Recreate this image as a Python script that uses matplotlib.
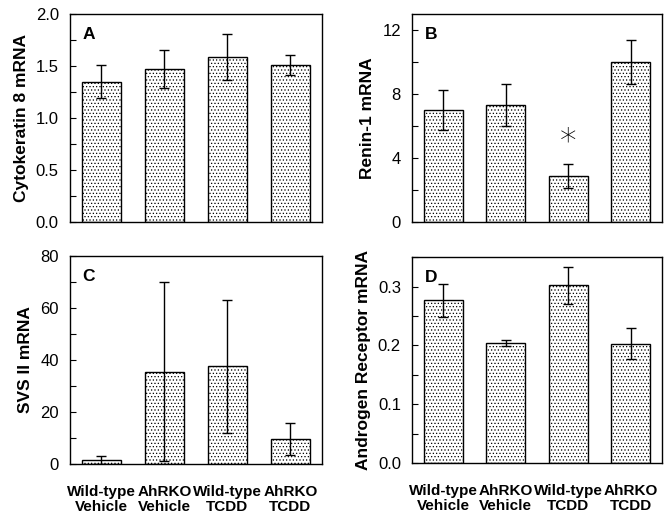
import matplotlib
matplotlib.use("Agg")
import matplotlib.pyplot as plt
import numpy as np

plt.rcParams['font.family'] = ['Liberation Sans', 'DejaVu Sans']
plt.rcParams['hatch.color'] = '#8c8c8c'
plt.rcParams['hatch.linewidth'] = 0.5

groups = ["Wild-type\nVehicle", "AhRKO\nVehicle", "Wild-type\nTCDD", "AhRKO\nTCDD"]

# panel A - cytokeratin 8
ck8_mean = [1.35, 1.47, 1.59, 1.51]
ck8_err = [0.16, 0.18, 0.22, 0.10]
# panel B - renin-1
renin_mean = [7.0, 7.3, 2.9, 10.0]
renin_err = [1.25, 1.3, 0.75, 1.35]
# panel C - SVS II
svs_mean = [1.5, 35.5, 37.5, 9.5]
svs_err = [1.5, 34.5, 25.5, 6.2]
# panel D - androgen receptor
ar_mean = [0.277, 0.204, 0.302, 0.203]
ar_err = [0.028, 0.005, 0.031, 0.027]

panels = [
    ("A", "Cytokeratin 8 mRNA", ck8_mean, ck8_err, (0, 2.0), [0, 0.5, 1.0, 1.5, 2.0], 0.25, "%.1f",
     [0.105, 0.573, 0.3784, 0.400]),
    ("B", "Renin-1 mRNA", renin_mean, renin_err, (0, 13), [0, 4, 8, 12], 2, "%d",
     [0.6186, 0.573, 0.3754, 0.400]),
    ("C", "SVS II mRNA", svs_mean, svs_err, (0, 80), [0, 20, 40, 60, 80], 10, "%d",
     [0.105, 0.1077, 0.3784, 0.400]),
    ("D", "Androgen Receptor mRNA", ar_mean, ar_err, (0, 0.35), [0, 0.1, 0.2, 0.3], 0.05, "%.1f",
     [0.6186, 0.1096, 0.3754, 0.396]),
]

fig = plt.figure(figsize=(6.66, 5.2), dpi=100)
x = np.arange(len(groups))

for letter, ylabel, mean, err, ylim, yticks, minor, fmt, rect in panels:
    ax = fig.add_axes(rect)
    ax.bar(x, mean, width=0.63, facecolor='white', edgecolor='black', linewidth=1.0,
           hatch='.....', zorder=2)
    ax.errorbar(x, mean, yerr=err, fmt='none', ecolor='black', elinewidth=1.0,
                capsize=3.5, capthick=1.0, zorder=3)
    ax.set_xlim(-0.5, 3.5)
    ax.set_ylim(*ylim)
    ax.set_yticks(np.arange(0, ylim[1] + 1e-9, minor), minor=True)
    ax.set_yticks(yticks)
    ax.set_yticklabels([fmt % t for t in yticks], fontsize=12)
    ax.tick_params(axis='y', which='both', direction='in', length=4, width=0.8, pad=8)
    ax.set_ylabel(ylabel, fontsize=12.5, fontweight='bold', labelpad=5)
    ax.text(0.05, 0.9, letter, transform=ax.transAxes, fontsize=12.5, fontweight='bold',
            va='center', ha='left')
    for s in ax.spines.values():
        s.set_linewidth(1.0)
    if letter in ("C", "D"):
        ax.set_xticks(x)
        ax.set_xticklabels(groups, fontsize=11, fontweight='bold', linespacing=1.15)
        ax.tick_params(axis='x', length=0, pad=15)
    else:
        ax.set_xticks([])
    if letter == "B":
        ax.text(2, mean[2] + err[2] + 0.3, "*", ha='center', va='bottom', fontsize=24,
                fontfamily='DejaVu Sans', fontweight='light')

fig.savefig("out.png", dpi=100)
